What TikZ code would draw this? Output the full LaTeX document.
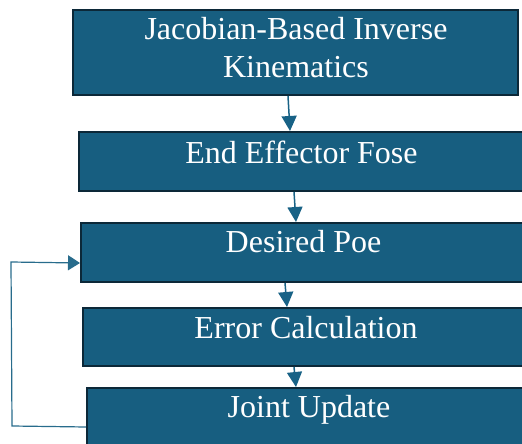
\documentclass[tikz,border=0pt]{standalone}
\usepackage{fontspec}
\setmainfont{Liberation Serif}
\usetikzlibrary{calc,arrows.meta}
\definecolor{boxfill}{RGB}{23,94,128}
\definecolor{boxline}{RGB}{12,40,56}
\definecolor{arrowcol}{RGB}{24,98,134}
\definecolor{loopcol}{RGB}{40,108,140}
\tikzset{
  box/.style={draw=boxline, line width=2pt, fill=boxfill, inner sep=0pt, outer sep=0pt},
  lbl/.style={text=white, inner sep=0pt, font=\fontsize{32}{38}\selectfont},
  flow/.style={draw=arrowcol, line width=1.5pt, -{Triangle[length=15pt,width=15pt]}},
  loopback/.style={draw=loopcol, line width=1.2pt, -{Triangle[length=12pt,width=15pt]}}
}
\begin{document}
\begin{tikzpicture}[x=1pt,y=-1pt]
  \useasboundingbox (0,0) rectangle (522,444);
  \clip (0,0) rectangle (522,444);
  % process boxes (the lower ones run past the right edge)
  \node[box, minimum width=445pt, minimum height=85pt] (b1) at (295.5,52.5) {};
  \node[box, minimum width=447pt, minimum height=59pt] (b2) at (302.5,161.5) {};
  \node[box, minimum width=447pt, minimum height=59pt] (b3) at (304.5,252.5) {};
  \node[box, minimum width=448pt, minimum height=58pt] (b4) at (307,337) {};
  \node[box, minimum width=446pt, minimum height=62pt] (b5) at (310,419) {};
  % labels
  \node[lbl, align=center, anchor=center] (t1) at (296,48) {Jacobian-Based Inverse\\Kinematics};
  \node[lbl, anchor=base] (t2) at (301.5,163) {End Effector Fose};
  \node[lbl, anchor=base] (t3) at (303.5,252) {Desired Poe};
  \node[lbl, anchor=base] (t4) at (306,338) {Error Calculation};
  \node[lbl, anchor=base] (t5) at (309,417) {Joint Update};
  % downward flow
  \draw[flow] ($(b1.south west)+(215,1)$) -- ($(b2.north west)+(211,-1)$);
  \draw[flow] ($(b2.south west)+(215,1)$) -- ($(b3.north west)+(215,-1)$);
  \draw[flow] ($(b3.south west)+(204,1)$) -- ($(b4.north west)+(204,-1)$);
  \draw[flow] ($(b4.south west)+(211,1)$) -- ($(b5.north west)+(209,-1)$);
  % feedback loop from the update back to the desired pose
  \coordinate (c1) at (12,426);
  \coordinate (c2) at (11,262);
  \draw[loopback] ($(b5.north west)+(-1,39)$) -- (c1) -- (c2) -- ($(b3.north west)+(-1,40)$);
\end{tikzpicture}
\end{document}
